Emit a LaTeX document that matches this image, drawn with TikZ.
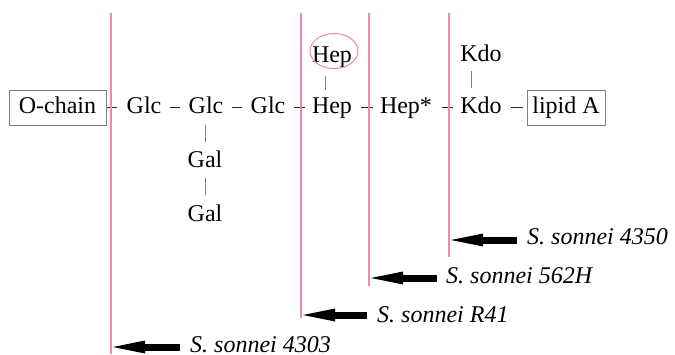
\documentclass[tikz,border=0pt]{standalone}
\usepackage{fontspec}
\setmainfont{Liberation Serif}
\usetikzlibrary{arrows.meta,positioning}
\definecolor{cutpink}{RGB}{242,135,172}

\begin{document}
\begin{tikzpicture}[x=1bp,y=-1bp,
  sugar/.style={anchor=base, inner sep=0pt, text height=16bp, text depth=5bp, font=\fontsize{24bp}{28bp}\selectfont},
  endbox/.style={sugar, draw=gray, inner ysep=7bp},
  link/.style={draw=black!85, line width=0.8bp, shorten <=8bp, shorten >=8bp},
  branch/.style={draw=gray, line width=0.8bp, shorten <=7bp, shorten >=8bp},
  cut/.style={draw=cutpink, line width=1.8bp},
  strain/.style={anchor=base west, inner sep=0pt, font=\fontsize{24bp}{28bp}\selectfont\itshape},
  block/.style={-{Triangle[length=32bp,width=13bp,line width=0pt]}, line width=7bp}
]
\useasboundingbox (0,0) rectangle (675,354);

% Main chain
\node[endbox, inner xsep=10bp] (ochain) at (57.5,113) {O-chain};
\node[sugar] (glc1) at (144,113) {Glc};
\node[sugar] (glc2) at (206,113) {Glc};
\node[sugar] (glc3) at (268,113) {Glc};
\node[sugar] (hep) at (332,113) {Hep};
\node[sugar] (hepstar) at (406,113) {Hep*};
\node[sugar] (kdo) at (481,113) {Kdo};
\node[endbox, inner xsep=5.5bp] (lipid) at (566,113) {lipid A};

% Side chains
\node[sugar] (heptop) at (332,62) {Hep};
\node[sugar] (kdotop) at (481,61) {Kdo};
\node[sugar] (gal1) at (205,167) {Gal};
\node[sugar] (gal2) at (205,221) {Gal};

% Links
\draw[link, shorten <=1bp, shorten >=9bp] (ochain) -- (glc1);
\draw[link] (glc1) -- (glc2);
\draw[link] (glc2) -- (glc3);
\draw[link, shorten >=7bp] (glc3) -- (hep);
\draw[link, shorten <=9bp, shorten >=7bp] (hep) -- (hepstar);
\draw[link, shorten <=10bp, shorten >=7bp] (hepstar) -- (kdo);
\draw[link, shorten <=9bp, shorten >=4bp] (kdo) -- (lipid);
\draw[branch, shorten <=9bp, shorten >=7bp] ([xshift=-6.5bp]heptop.south) -- ([xshift=-6.5bp]hep.north);
\draw[branch, shorten <=5bp, shorten >=9bp] ([xshift=-9.5bp]kdotop.south) -- ([xshift=-9.5bp]kdo.north);
\draw[branch, shorten >=9bp] ([xshift=-0.5bp]glc2.south) -- ([xshift=0.5bp]gal1.north);
\draw[branch, shorten <=6bp, shorten >=10bp] ([xshift=0.5bp]gal1.south) -- ([xshift=0.5bp]gal2.north);
\draw[cutpink, line width=1bp] ([xshift=2bp,yshift=5.5bp]heptop.center) ellipse (24bp and 17.5bp);

% Cut sites
\coordinate (top4303) at (111,13);
\coordinate (bot4303) at (111,354);
\coordinate (topR41) at (301,13);
\coordinate (botR41) at (301,318);
\coordinate (top562) at (369,13);
\coordinate (bot562) at (369,286);
\coordinate (top4350) at (449,13);
\coordinate (bot4350) at (449,257);
\draw[cut] (top4303) -- (bot4303);
\draw[cut] (topR41) -- (botR41);
\draw[cut] (top562) -- (bot562);
\draw[cut] (top4350) -- (bot4350);

% Strains
\coordinate (tip4350) at (451,240);
\coordinate (tip562) at (371,278);
\coordinate (tipR41) at (303,315);
\coordinate (tip4303) at (113,347);
\node[strain] (lbl4350) at (527,244) {S. sonnei 4350};
\node[strain] (lbl562) at (446,283) {S. sonnei 562H};
\node[strain] (lblR41) at (377,322) {S. sonnei R41};
\node[strain] (lbl4303) at (190,352) {S. sonnei 4303};
\draw[block] ([xshift=-10bp]tip4350 -| lbl4350.west) -- (tip4350);
\draw[block] ([xshift=-9bp]tip562 -| lbl562.west) -- (tip562);
\draw[block] ([xshift=-10bp]tipR41 -| lblR41.west) -- (tipR41);
\draw[block] ([xshift=-10bp]tip4303 -| lbl4303.west) -- (tip4303);
\end{tikzpicture}
\end{document}
